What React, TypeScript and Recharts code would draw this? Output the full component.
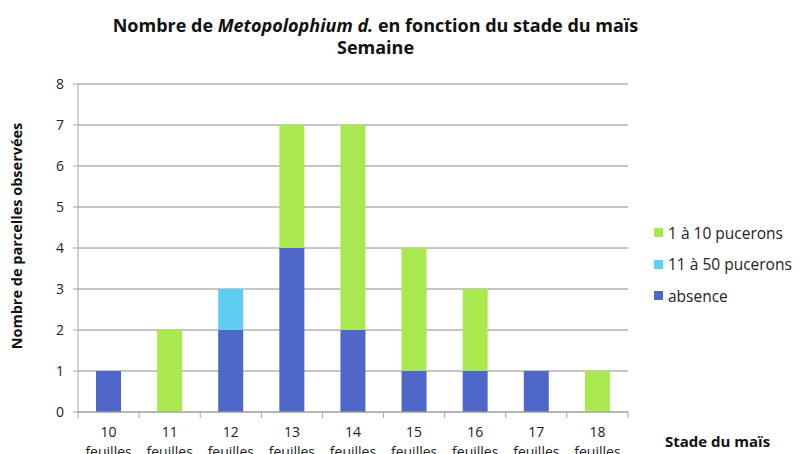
import React from "react";
import { BarChart, Bar, XAxis, YAxis, CartesianGrid } from "recharts";

const stades = ["10", "11", "12", "13", "14", "15", "16", "17", "18"];
const absence = [1, 0, 2, 4, 2, 1, 1, 1, 0];
const moyen = [0, 0, 1, 0, 0, 0, 0, 0, 0];
const faible = [0, 2, 0, 3, 5, 3, 2, 0, 1];
const yTicks = [0, 1, 2, 3, 4, 5, 6, 7, 8];

const data = stades.map((s, i) => ({
  stade: s,
  absence: absence[i],
  moyen: moyen[i],
  faible: faible[i],
}));

const FONT = "'Open Sans', sans-serif";
const BLUE = "#4f67c9";
const CYAN = "#5fcdf2";
const GREEN = "#a9e84f";

const legendItems = [
  { label: "1 à 10 pucerons", color: GREEN },
  { label: "11 à 50 pucerons", color: CYAN },
  { label: "absence", color: BLUE },
];

function StadeTick(props: any) {
  const { x, y, payload, index } = props;
  const half = payload && payload.offset ? payload.offset : 30.5;
  const top = y - 8;
  return (
    <g>
      <line x1={x - half} x2={x - half} y1={top} y2={top + 6} stroke="#a6a6a6" />
      {index === stades.length - 1 && (
        <line x1={x + half} x2={x + half} y1={top} y2={top + 6} stroke="#a6a6a6" />
      )}
      <text x={x} y={top + 25} textAnchor="middle" fontSize={14} fill="#222" fontFamily={FONT}>
        {payload.value}
      </text>
      <text x={x} y={top + 45} textAnchor="middle" fontSize={14} fill="#222" fontFamily={FONT}>
        feuilles
      </text>
    </g>
  );
}

export default function App() {
  return (
    <div style={{ position: "absolute", left: 0, top: 0, width: 800, height: 454, background: "#fff", overflow: "hidden" }}>
      <div
        style={{
          position: "absolute",
          left: 0,
          width: 751,
          top: 14,
          textAlign: "center",
          fontFamily: FONT,
          fontWeight: 700,
          fontSize: 18,
          lineHeight: "22px",
          color: "#111",
        }}
      >
        <div>
          Nombre de <i>Metopolophium d.</i> en fonction du stade du maïs
        </div>
        <div>Semaine</div>
      </div>
      <div
        style={{
          position: "absolute",
          left: 16,
          top: 236,
          transform: "translate(-50%, -50%) rotate(-90deg)",
          whiteSpace: "nowrap",
          fontFamily: FONT,
          fontWeight: 700,
          fontSize: 14.5,
          color: "#111",
        }}
      >
        Nombre de parcelles observées
      </div>
      <div
        style={{
          position: "absolute",
          left: 665,
          top: 431,
          fontFamily: FONT,
          fontWeight: 700,
          fontSize: 15,
          color: "#111",
        }}
      >
        Stade du maïs
      </div>
      <div style={{ position: "absolute", left: 654, top: 217, fontFamily: FONT, fontSize: 15.5, color: "#222" }}>
        {legendItems.map((it) => (
          <div key={it.label} style={{ display: "flex", alignItems: "center", height: 31.5 }}>
            <span
              style={{ width: 9, height: 9, background: it.color, display: "inline-block", marginRight: 5 }}
            />
            {it.label}
          </div>
        ))}
      </div>
      <BarChart
        width={800}
        height={454}
        data={data}
        margin={{ top: 84, right: 172, bottom: 0, left: 48 }}
        barCategoryGap={0}
        style={{ position: "absolute", left: 0, top: 0 }}
      >
        <CartesianGrid vertical={false} stroke="#8c8c8c" />
        <XAxis
          dataKey="stade"
          height={42}
          axisLine={{ stroke: "#a6a6a6" }}
          tickLine={false}
          tick={<StadeTick />}
          interval={0}
        />
        <YAxis
          width={30}
          domain={[0, 8]}
          ticks={yTicks}
          interval={0}
          axisLine={{ stroke: "#a6a6a6" }}
          tickLine={{ stroke: "#a6a6a6" }}
          tickSize={5}
          tickMargin={9}
          tick={{ fontSize: 14, fill: "#222", fontFamily: FONT }}
        />
        <Bar dataKey="absence" stackId="s" fill={BLUE} barSize={25} isAnimationActive={false} />
        <Bar dataKey="moyen" stackId="s" fill={CYAN} barSize={25} isAnimationActive={false} />
        <Bar dataKey="faible" stackId="s" fill={GREEN} barSize={25} isAnimationActive={false} />
      </BarChart>
    </div>
  );
}
